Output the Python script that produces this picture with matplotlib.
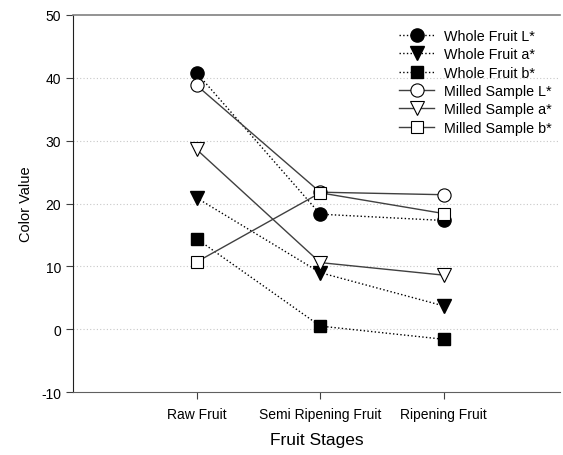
import matplotlib
matplotlib.use('Agg')
import matplotlib.pyplot as plt

plt.rcParams['font.family'] = ['Liberation Sans', 'DejaVu Sans']
plt.rcParams['axes.unicode_minus'] = False

stages = ['Raw Fruit', 'Semi Ripening Fruit', 'Ripening Fruit']
xpos = [1, 2, 3]

whole_L = [40.8, 18.3, 17.3]
whole_a = [20.9, 9.0, 3.7]
whole_b = [14.4, 0.5, -1.6]
milled_L = [38.8, 21.8, 21.4]
milled_a = [28.6, 10.6, 8.6]
milled_b = [10.7, 21.7, 18.4]

fig = plt.figure(figsize=(5.63, 4.56), dpi=100)
ax = fig.add_axes([0.1297, 0.138, 0.865, 0.827])

ms = 9.5
ax.plot(xpos, whole_L, ':', color='black', lw=1, marker='o', ms=ms,
        mfc='black', mec='black', label='Whole Fruit L*')
ax.plot(xpos, whole_a, ':', color='black', lw=1, marker='v', ms=ms,
        mfc='black', mec='black', label='Whole Fruit a*')
ax.plot(xpos, whole_b, ':', color='black', lw=1, marker='s', ms=ms - 1,
        mfc='black', mec='black', label='Whole Fruit b*')
ax.plot(xpos, milled_L, '-', color='#404040', lw=1, marker='o', ms=ms,
        mfc='white', mec='black', mew=0.8, label='Milled Sample L*')
ax.plot(xpos, milled_a, '-', color='#404040', lw=1, marker='v', ms=ms,
        mfc='white', mec='black', mew=0.8, label='Milled Sample a*')
ax.plot(xpos, milled_b, '-', color='#404040', lw=1, marker='s', ms=ms - 1,
        mfc='white', mec='black', mew=0.8, label='Milled Sample b*')

ax.set_xlim(0, 3.94)
ax.set_ylim(-10, 50)
ax.set_xticks(xpos)
ax.set_xticklabels(stages)
ax.set_yticks(range(-10, 51, 10))

for yv in [0, 10, 20, 30, 40]:
    ax.axhline(yv, color='#c8c8c8', lw=0.8, ls=(0, (1, 2)), zorder=0)

ax.spines['right'].set_visible(False)
ax.spines['top'].set_color('#808080')
ax.spines['top'].set_linewidth(1.2)
ax.spines['left'].set_color('#202020')
ax.spines['bottom'].set_color('#606060')
ax.tick_params(axis='both', direction='out', length=5, labelsize=10, color='#404040')
ax.tick_params(axis='x', pad=6)

ax.set_xlabel('Fruit Stages', fontsize=12.5, labelpad=8)
ax.set_ylabel('Color Value', fontsize=10.5, labelpad=6)

ax.legend(loc='upper right', bbox_to_anchor=(1.0, 0.985), frameon=False,
          fontsize=10.3, handlelength=2.4, labelspacing=0.3, handletextpad=0.7,
          borderaxespad=0.2)

plt.savefig('out.png', dpi=100)
